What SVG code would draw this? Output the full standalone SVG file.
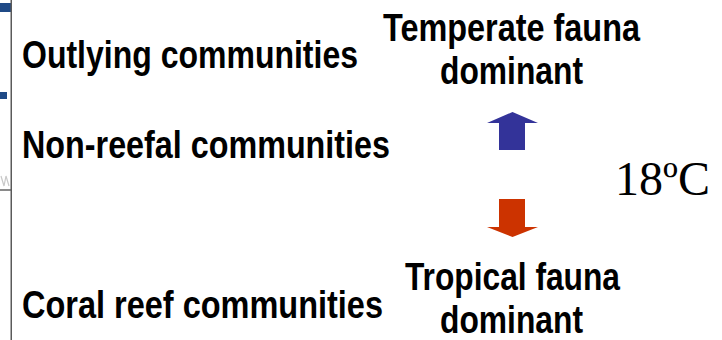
<svg xmlns="http://www.w3.org/2000/svg" width="722" height="340" viewBox="0 0 722 340">
  <style>
    .lbl { font-family: "Liberation Sans", Arial, sans-serif; font-weight: bold; font-size: 39px; fill: #000; }
    .temp { font-family: "Liberation Serif", "Times New Roman", serif; font-size: 48px; fill: #000; }
  </style>
  <rect width="722" height="340" fill="#fff"/>

  <!-- clipped edge of a neighbouring slide -->
  <g id="edge">
    <rect x="0" y="3" width="11" height="9" fill="#1f4a86"/>
    <rect x="0" y="92" width="7" height="7" fill="#1f4a86"/>
    <path d="M1 176 L4 186 L6 176 L9 186" fill="none" stroke="#c8c8c8" stroke-width="1.2"/>
    <rect x="0" y="189" width="11" height="2" fill="#8a8a8a"/>
    <rect x="10.5" y="0" width="1.5" height="340" fill="#5a5a5a"/>
  </g>

  <!-- left column: community types -->
  <g id="outlying">
    <text class="lbl" x="22" y="68" textLength="336" lengthAdjust="spacingAndGlyphs">Outlying communities</text>
  </g>
  <g id="nonreefal">
    <text class="lbl" x="22" y="158" textLength="368" lengthAdjust="spacingAndGlyphs">Non-reefal communities</text>
  </g>
  <g id="coralreef">
    <text class="lbl" x="22" y="318" textLength="361" lengthAdjust="spacingAndGlyphs">Coral reef communities</text>
  </g>

  <!-- right column: dominant fauna -->
  <g id="temperate">
    <text class="lbl" x="383" y="41" textLength="257" lengthAdjust="spacingAndGlyphs">Temperate fauna</text>
    <text class="lbl" x="440" y="84" textLength="143" lengthAdjust="spacingAndGlyphs">dominant</text>
  </g>
  <g id="tropical">
    <text class="lbl" x="405" y="290" textLength="215" lengthAdjust="spacingAndGlyphs">Tropical fauna</text>
    <text class="lbl" x="440" y="333" textLength="143" lengthAdjust="spacingAndGlyphs">dominant</text>
  </g>

  <!-- threshold temperature -->
  <g id="threshold">
    <text class="temp" x="615" y="195">18ºC</text>
  </g>

  <!-- arrows -->
  <g id="connectors">
    <polygon points="512.5,112 538,123 525,123 525,150 499,150 499,123 487,123" fill="#333399"/>
    <polygon points="499,199 525,199 525,227 538,227 512.5,237 487,227 499,227" fill="#cc3300"/>
  </g>
</svg>
